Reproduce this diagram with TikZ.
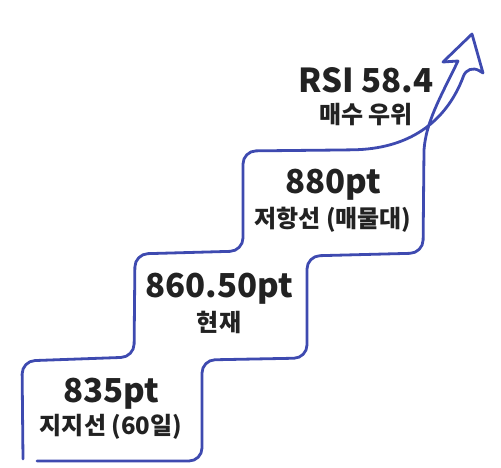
\documentclass[tikz,border=0pt]{standalone}
\usepackage{fontspec}
\newfontfamily\krfont{Noto Sans CJK KR}
\usepackage{tikz}
\usetikzlibrary{positioning}

\definecolor{stairblue}{RGB}{62,74,176}
\definecolor{textgray}{RGB}{34,34,34}

\begin{document}
\begin{tikzpicture}[x=1pt, y=-1pt,
    stair/.style={draw=stairblue, line width=2.8pt, line cap=round, line join=round},
    price/.style={font=\krfont\bfseries\fontsize{33}{36}\selectfont, text=textgray, inner sep=0pt},
    note/.style={font=\krfont\bfseries\fontsize{24}{28}\selectfont, text=textgray, inner sep=0pt}]
    \useasboundingbox (0,0) rectangle (501,468);

    % Staircase outline ending in a hollow arrow
    \draw[stair, rounded corners=13pt] (23,459) -- (22,361) -- (134,357) -- (135,254) -- (243,251)
        -- (243,151) -- (340,150) .. controls (408,149) and (446,123) .. (468,64)
        [sharp corners] -- (483,73) -- (472,34) -- (443,62) -- (458,61)
        .. controls (440,98) and (426,122) .. (424,150)
        [rounded corners=13pt] -- (423,253) -- (307,256) -- (307,358) -- (202,360) -- (202,461) -- (37,461);

    % Price levels on each step
    \node (rsi) [price] at (366,80) {RSI 58.4};
    \node (rsinote) [note] at (366,115) {매수 우위};
    \node (resist) [price] at (333,185) {880pt};
    \node (resistnote) [note] at (333,220) {저항선 (매물대)};
    \node (current) [price] at (219,289) {860.50pt};
    \node (currentnote) [note] at (219,322) {현재};
    \node (support) [price] at (111,394) {835pt};
    \node (supportnote) [note] at (111,427) {지지선 (60일)};
\end{tikzpicture}
\end{document}
